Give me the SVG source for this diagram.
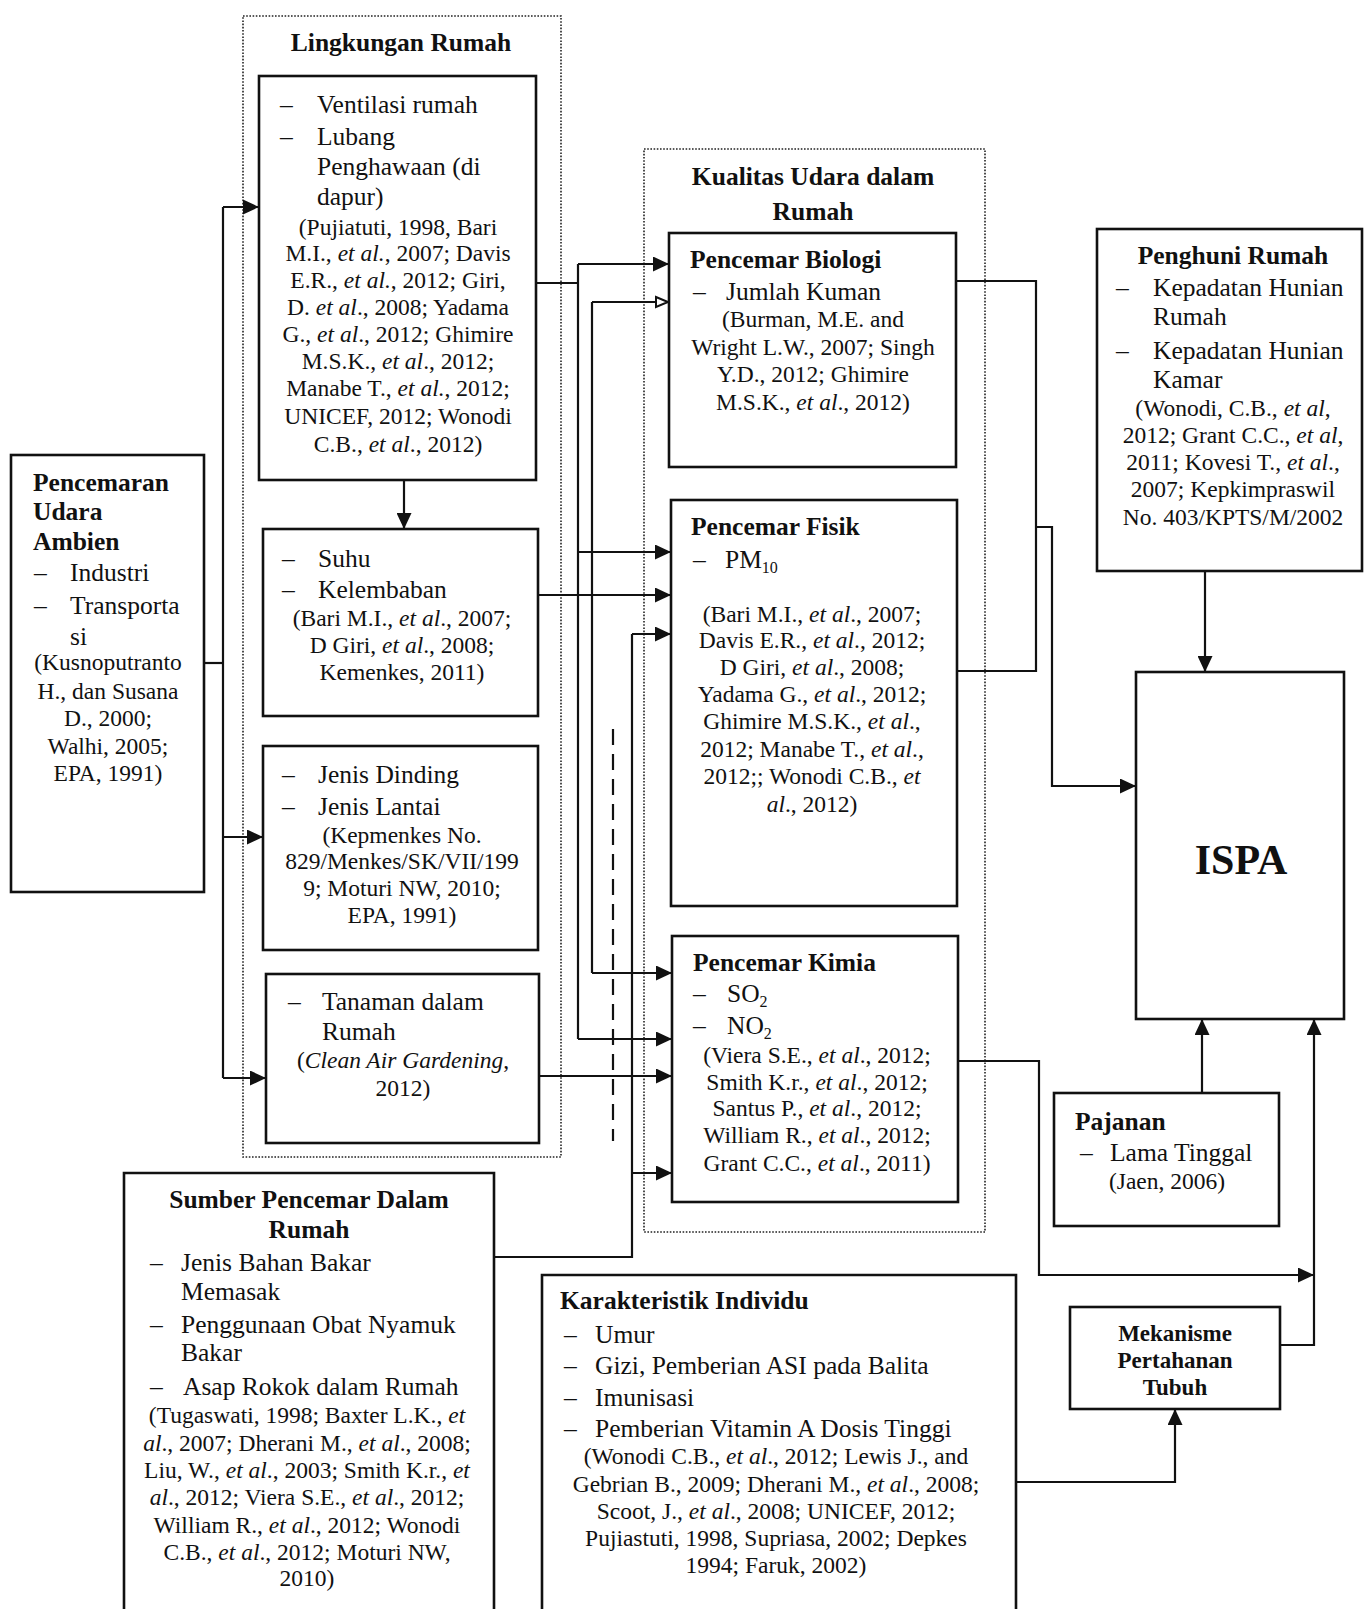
<svg xmlns="http://www.w3.org/2000/svg" width="1364" height="1609" viewBox="0 0 1364 1609">
<style>
text{font-family:"Liberation Serif","Times New Roman",serif;fill:#111}
.b{font-size:25.5px}
.c{font-size:23.5px;text-anchor:middle}
.t{font-size:25.5px;font-weight:bold}
.tm{font-size:25.5px;font-weight:bold;text-anchor:middle}
.box{fill:#fff;stroke:#111;stroke-width:2.6}
.dot{fill:none;stroke:#222;stroke-width:1.6;stroke-dasharray:1.6 1.6}
.ln{fill:none;stroke:#111;stroke-width:2.2}
.ar{fill:none;stroke:#111;stroke-width:2.2;marker-end:url(#ah)}
.ao{fill:none;stroke:#111;stroke-width:2.2;marker-end:url(#aho)}
.i{font-style:italic}
</style>
<defs>
<marker id="ah" markerUnits="userSpaceOnUse" markerWidth="17" markerHeight="15" refX="16" refY="7.5" orient="auto">
<path d="M0,0 L16,7.5 L0,15 Z" fill="#111"/>
</marker>
<marker id="aho" markerUnits="userSpaceOnUse" markerWidth="16" markerHeight="14" refX="14" refY="7" orient="auto">
<path d="M2,2 L14,7 L2,12 Z" fill="#fff" stroke="#111" stroke-width="2"/>
</marker>
</defs>
<rect width="1364" height="1609" fill="#fff"/>

<g id="group-lingkungan">
<rect class="dot" x="243" y="16" width="318" height="1141"/>
<text class="tm" x="401" y="51">Lingkungan Rumah</text>
</g>
<g id="group-kualitas">
<rect class="dot" x="644" y="149" width="341" height="1083"/>
<text class="tm" x="813" y="185">Kualitas Udara dalam</text>
<text class="tm" x="813" y="220">Rumah</text>
</g>

<g id="connectors">
<path class="ln" d="M204,663 H223"/>
<path class="ln" d="M223,207 V1078"/>
<path class="ar" d="M223,207 H259"/>
<path class="ar" d="M223,837 H263"/>
<path class="ar" d="M223,1078 H266"/>
<path class="ar" d="M404,480 V529"/>
<path class="ln" d="M536,283 H578"/>
<path class="ln" d="M578,264 V1039"/>
<path class="ar" d="M578,264 H669"/>
<path class="ar" d="M578,552 H671"/>
<path class="ar" d="M578,1039 H672"/>
<path class="ln" d="M592,302 V973"/>
<path class="ao" d="M592,302 H668"/>
<path class="ar" d="M592,973 H672"/>
<path class="ar" d="M538,595 H671"/>
<path class="ln" d="M494,1257 H632 V634"/>
<path class="ar" d="M632,634 H671"/>
<path class="ar" d="M632,1173 H672"/>
<path class="ar" d="M539,1076 H672"/>
<path class="ln" d="M613,729 V1141" stroke-dasharray="16 9" stroke-width="1.6"/>
<path class="ln" d="M956,281 H1036 V671 H957"/>
<path class="ar" d="M1036,527 H1052 V786 H1136"/>
<path class="ar" d="M1205,571 V672"/>
<path class="ar" d="M958,1061 H1039 V1275 H1314"/>
<path class="ar" d="M1280,1345 H1314 V1019"/>
<path class="ar" d="M1202,1093 V1019"/>
<path class="ar" d="M1016,1482 H1175 V1409"/>
</g>

<g id="node-ventilasi">
<rect class="box" x="259" y="76" width="277" height="404"/>
<text class="b" x="280" y="113">–</text><text class="b" x="317" y="113">Ventilasi rumah</text>
<text class="b" x="280" y="145">–</text><text class="b" x="317" y="145">Lubang</text>
<text class="b" x="317" y="175">Penghawaan (di</text>
<text class="b" x="317" y="205">dapur)</text>
<text class="c" x="398" y="235">(Pujiatuti, 1998, Bari</text>
<text class="c" x="398" y="261">M.I., <tspan class="i">et al.</tspan>, 2007; Davis</text>
<text class="c" x="398" y="288">E.R., <tspan class="i">et al.</tspan>, 2012; Giri,</text>
<text class="c" x="398" y="315">D. <tspan class="i">et al</tspan>., 2008; Yadama</text>
<text class="c" x="398" y="342">G., <tspan class="i">et al</tspan>., 2012; Ghimire</text>
<text class="c" x="398" y="369">M.S.K., <tspan class="i">et al</tspan>., 2012;</text>
<text class="c" x="398" y="396">Manabe T., <tspan class="i">et al.</tspan>, 2012;</text>
<text class="c" x="398" y="424">UNICEF, 2012; Wonodi</text>
<text class="c" x="398" y="452">C.B., <tspan class="i">et al</tspan>., 2012)</text>
</g>

<g id="node-suhu">
<rect class="box" x="263" y="529" width="275" height="187"/>
<text class="b" x="282" y="567">–</text><text class="b" x="318" y="567">Suhu</text>
<text class="b" x="282" y="598">–</text><text class="b" x="318" y="598">Kelembaban</text>
<text class="c" x="402" y="626">(Bari M.I., <tspan class="i">et al</tspan>., 2007;</text>
<text class="c" x="402" y="653">D Giri, <tspan class="i">et al</tspan>., 2008;</text>
<text class="c" x="402" y="680">Kemenkes, 2011)</text>
</g>

<g id="node-dinding">
<rect class="box" x="263" y="746" width="275" height="204"/>
<text class="b" x="282" y="783">–</text><text class="b" x="318" y="783">Jenis Dinding</text>
<text class="b" x="282" y="815">–</text><text class="b" x="318" y="815">Jenis Lantai</text>
<text class="c" x="402" y="843">(Kepmenkes No.</text>
<text class="c" x="402" y="869">829/Menkes/SK/VII/199</text>
<text class="c" x="402" y="896">9; Moturi NW, 2010;</text>
<text class="c" x="402" y="923">EPA, 1991)</text>
</g>

<g id="node-tanaman">
<rect class="box" x="266" y="974" width="273" height="169"/>
<text class="b" x="288" y="1010">–</text><text class="b" x="322" y="1010">Tanaman dalam</text>
<text class="b" x="322" y="1040">Rumah</text>
<text class="c" x="403" y="1068">(<tspan class="i">Clean Air Gardening</tspan>,</text>
<text class="c" x="403" y="1096">2012)</text>
</g>

<g id="node-pencemaran">
<rect class="box" x="11" y="455" width="193" height="437"/>
<text class="t" x="33" y="491">Pencemaran</text>
<text class="t" x="33" y="520">Udara</text>
<text class="t" x="33" y="550">Ambien</text>
<text class="b" x="34" y="581">–</text><text class="b" x="70" y="581">Industri</text>
<text class="b" x="34" y="614">–</text><text class="b" x="70" y="614">Transporta</text>
<text class="b" x="70" y="645">si</text>
<text class="c" x="108" y="670">(Kusnoputranto</text>
<text class="c" x="108" y="699">H., dan Susana</text>
<text class="c" x="108" y="726">D., 2000;</text>
<text class="c" x="108" y="754">Walhi, 2005;</text>
<text class="c" x="108" y="781">EPA, 1991)</text>
</g>

<g id="node-biologi">
<rect class="box" x="669" y="233" width="287" height="234"/>
<text class="t" x="690" y="268">Pencemar Biologi</text>
<text class="b" x="693" y="300">–</text><text class="b" x="726" y="300">Jumlah Kuman</text>
<text class="c" x="813" y="327">(Burman, M.E. and</text>
<text class="c" x="813" y="355">Wright L.W., 2007; Singh</text>
<text class="c" x="813" y="382">Y.D., 2012; Ghimire</text>
<text class="c" x="813" y="410">M.S.K., <tspan class="i">et al</tspan>., 2012)</text>
</g>

<g id="node-fisik">
<rect class="box" x="671" y="500" width="286" height="406"/>
<text class="t" x="691" y="535">Pencemar Fisik</text>
<text class="b" x="693" y="568">–</text><text class="b" x="725" y="568">PM<tspan font-size="16" dy="5">10</tspan></text>
<text class="c" x="812" y="622">(Bari M.I., <tspan class="i">et al</tspan>., 2007;</text>
<text class="c" x="812" y="648">Davis E.R., <tspan class="i">et al</tspan>., 2012;</text>
<text class="c" x="812" y="675">D Giri, <tspan class="i">et al</tspan>., 2008;</text>
<text class="c" x="812" y="702">Yadama G., <tspan class="i">et al</tspan>., 2012;</text>
<text class="c" x="812" y="729">Ghimire M.S.K., <tspan class="i">et al</tspan>.,</text>
<text class="c" x="812" y="757">2012; Manabe T., <tspan class="i">et al</tspan>.,</text>
<text class="c" x="812" y="784">2012;; Wonodi C.B., <tspan class="i">et</tspan></text>
<text class="c" x="812" y="812"><tspan class="i">al</tspan>., 2012)</text>
</g>

<g id="node-kimia">
<rect class="box" x="672" y="936" width="286" height="266"/>
<text class="t" x="693" y="971">Pencemar Kimia</text>
<text class="b" x="693" y="1002">–</text><text class="b" x="727" y="1002">SO<tspan font-size="16" dy="5">2</tspan></text>
<text class="b" x="693" y="1034">–</text><text class="b" x="727" y="1034">NO<tspan font-size="16" dy="5">2</tspan></text>
<text class="c" x="817" y="1063">(Viera S.E., <tspan class="i">et al</tspan>., 2012;</text>
<text class="c" x="817" y="1090">Smith K.r., <tspan class="i">et al</tspan>., 2012;</text>
<text class="c" x="817" y="1116">Santus P., <tspan class="i">et al</tspan>., 2012;</text>
<text class="c" x="817" y="1143">William R., <tspan class="i">et al</tspan>., 2012;</text>
<text class="c" x="817" y="1171">Grant C.C., <tspan class="i">et al</tspan>., 2011)</text>
</g>

<g id="node-penghuni">
<rect class="box" x="1097" y="229" width="265" height="342"/>
<text class="tm" x="1233" y="264">Penghuni Rumah</text>
<text class="b" x="1116" y="296">–</text><text class="b" x="1153" y="296">Kepadatan Hunian</text>
<text class="b" x="1153" y="325">Rumah</text>
<text class="b" x="1116" y="359">–</text><text class="b" x="1153" y="359">Kepadatan Hunian</text>
<text class="b" x="1153" y="388">Kamar</text>
<text class="c" x="1233" y="416">(Wonodi, C.B., <tspan class="i">et al</tspan>,</text>
<text class="c" x="1233" y="443">2012; Grant C.C., <tspan class="i">et al</tspan>,</text>
<text class="c" x="1233" y="470">2011;  Kovesi T., <tspan class="i">et al</tspan>.,</text>
<text class="c" x="1233" y="497">2007; Kepkimpraswil</text>
<text class="c" x="1233" y="525">No. 403/KPTS/M/2002</text>
</g>

<g id="node-ispa">
<rect class="box" x="1136" y="672" width="208" height="347"/>
<text x="1241" y="874" font-size="42" font-weight="bold" text-anchor="middle">ISPA</text>
</g>

<g id="node-pajanan">
<rect class="box" x="1054" y="1093" width="225" height="133"/>
<text class="t" x="1075" y="1130">Pajanan</text>
<text class="b" x="1080" y="1161">–</text><text class="b" x="1110" y="1161">Lama Tinggal</text>
<text class="c" x="1167" y="1189">(Jaen, 2006)</text>
</g>

<g id="node-mekanisme">
<rect class="box" x="1070" y="1307" width="210" height="102"/>
<text x="1175" y="1341" font-size="23" font-weight="bold" text-anchor="middle">Mekanisme</text>
<text x="1175" y="1368" font-size="23" font-weight="bold" text-anchor="middle">Pertahanan</text>
<text x="1175" y="1395" font-size="23" font-weight="bold" text-anchor="middle">Tubuh</text>
</g>

<g id="node-sumber">
<path class="box" d="M124,1612 V1173 H494 V1612"/>
<text class="tm" x="309" y="1208">Sumber Pencemar Dalam</text>
<text class="tm" x="309" y="1238">Rumah</text>
<text class="b" x="150" y="1271">–</text><text class="b" x="181" y="1271">Jenis Bahan Bakar</text>
<text class="b" x="181" y="1300">Memasak</text>
<text class="b" x="150" y="1333">–</text><text class="b" x="181" y="1333">Penggunaan Obat Nyamuk</text>
<text class="b" x="181" y="1361">Bakar</text>
<text class="b" x="150" y="1395">–</text><text class="b" x="183" y="1395">Asap Rokok dalam Rumah</text>
<text class="c" x="307" y="1423">(Tugaswati, 1998; Baxter L.K., <tspan class="i">et</tspan></text>
<text class="c" x="307" y="1451"><tspan class="i">al</tspan>., 2007; Dherani M., <tspan class="i">et al</tspan>., 2008;</text>
<text class="c" x="307" y="1478">Liu, W., <tspan class="i">et al</tspan>., 2003; Smith K.r., <tspan class="i">et</tspan></text>
<text class="c" x="307" y="1505"><tspan class="i">al</tspan>., 2012; Viera S.E., <tspan class="i">et al</tspan>., 2012;</text>
<text class="c" x="307" y="1533">William R., <tspan class="i">et al</tspan>., 2012;  Wonodi</text>
<text class="c" x="307" y="1560">C.B., <tspan class="i">et al</tspan>., 2012; Moturi NW,</text>
<text class="c" x="307" y="1586">2010)</text>
</g>

<g id="node-karakteristik">
<path class="box" d="M542,1612 V1275 H1016 V1612"/>
<text class="t" x="560" y="1309">Karakteristik Individu</text>
<text class="b" x="564" y="1343">–</text><text class="b" x="595" y="1343">Umur</text>
<text class="b" x="564" y="1374">–</text><text class="b" x="595" y="1374">Gizi, Pemberian ASI pada Balita</text>
<text class="b" x="564" y="1406">–</text><text class="b" x="595" y="1406">Imunisasi</text>
<text class="b" x="564" y="1437">–</text><text class="b" x="595" y="1437">Pemberian Vitamin A Dosis Tinggi</text>
<text class="c" x="776" y="1464">(Wonodi C.B., <tspan class="i">et al</tspan>., 2012; Lewis J., and</text>
<text class="c" x="776" y="1492">Gebrian B., 2009; Dherani M., <tspan class="i">et al</tspan>., 2008;</text>
<text class="c" x="776" y="1519">Scoot, J., <tspan class="i">et al</tspan>., 2008; UNICEF, 2012;</text>
<text class="c" x="776" y="1546">Pujiastuti, 1998, Supriasa, 2002; Depkes</text>
<text class="c" x="776" y="1573">1994; Faruk, 2002)</text>
</g>
</svg>
